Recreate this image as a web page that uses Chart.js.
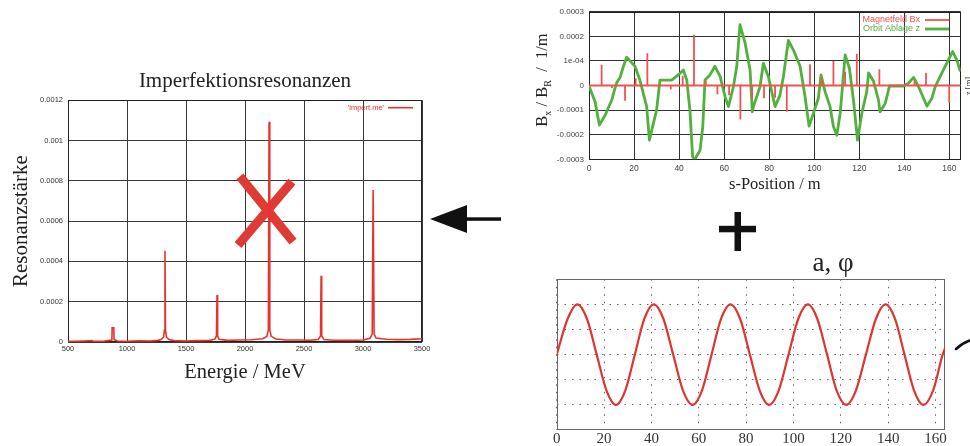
<!DOCTYPE html>
<html>
<head>
<meta charset="utf-8">
<title>Imperfektionsresonanzen</title>
<script src="https://cdn.jsdelivr.net/npm/chart.js@4/dist/chart.umd.min.js"></script>
<style>
  html, body { margin: 0; padding: 0; background: #fff; }
  body { position: relative; width: 970px; height: 446px; overflow: hidden; }
  canvas { position: absolute; }
  #deko { left: 0; top: 0; z-index: 0; }
  #spectrum { left: 0; top: 60px; z-index: 1; }
  #orbit { left: 520px; top: 0; z-index: 1; }
  #phase { left: 540px; top: 240px; z-index: 1; }
</style>
</head>
<body>
<canvas id="deko" width="970" height="446"></canvas>
<canvas id="spectrum" width="502" height="330"></canvas>
<canvas id="orbit" width="450" height="200"></canvas>
<canvas id="phase" width="430" height="206"></canvas>
<script>
// Resonanzspektrum ('impert.me'): Energie in MeV, Resonanzstärke
const energyMeV = [500, 560, 640, 700, 720, 800, 850, 872, 874, 888, 890, 920, 1000, 1100, 1200, 1260, 1290, 1310, 1318, 1322, 1326, 1334, 1355, 1400, 1500, 1600, 1700, 1745, 1758, 1763, 1768, 1780, 1850, 1950, 2050, 2150, 2185, 2198, 2204, 2210, 2222, 2260, 2350, 2450, 2550, 2620, 2640, 2645, 2650, 2670, 2750, 2900, 3000, 3060, 3078, 3086, 3094, 3110, 3200, 3300, 3400, 3500];
const strength = [0.000004, 0.000003, 0.000005, 0.000007, 0.000003, 0.000004, 0.000008, 0.00001, 0.00007, 0.00007, 0.000012, 0.000005, 0.000004, 0.000006, 0.000005, 0.000008, 0.000012, 0.000025, 0.00006, 0.000453, 0.00006, 0.000025, 0.000012, 0.000007, 0.000005, 0.000007, 0.000008, 0.000014, 0.00003, 0.000233, 0.00003, 0.000014, 0.000008, 0.00001, 0.000011, 0.000016, 0.000028, 0.00006, 0.001093, 0.00006, 0.000028, 0.000015, 0.00001, 0.00001, 0.000009, 0.000012, 0.00003, 0.000329, 0.00003, 0.000012, 0.000009, 0.000008, 0.00001, 0.000018, 0.00004, 0.000754, 0.00004, 0.00002, 0.000014, 0.000012, 0.000013, 0.000016];
const energyTicks = [500, 1000, 1500, 2000, 2500, 3000, 3500];
const energyLabels = ['500', '1000', '1500', '2000', '2500', '3000', '3500'];
const strengthTicks = [0, 0.0002, 0.0004, 0.0006, 0.0008, 0.001, 0.0012];
const strengthLabels = ['0', '0.0002', '0.0004', '0.0006', '0.0008', '0.001', '0.0012'];

// Kreuz über der Resonanz bei 2200 MeV (zwei Balken, Energie / Stärke)
const crossArmA = [[1957, 0.000822], [2407, 0.000498]];
const crossArmB = [[1941, 0.000481], [2398, 0.000796]];

// Magnetfeld Bx entlang des Rings (s in m, Bx/BR in 1/m)
const magnetS = [5.6, 10.2, 16.0, 20.7, 25.9, 36.3, 41.6, 46.6, 51.8, 57.0, 62.2, 67.2, 72.4, 77.7, 82.6, 87.8, 98.1, 103.3, 108.5, 113.7, 118.9, 128.9, 144.5, 149.6, 159.9];
const magnetBx = [0.000084, -0.00001, -0.000062, 0.000029, 0.000131, -0.000016, 0.000039, 0.000206, 0.00002, -0.000036, -0.00004, -0.000138, -0.000056, -0.000052, -0.00005, -0.000107, 0.000086, 0.00003, 0.0001, 0.000056, 0.000129, 0.000066, 0.00002, 0.000052, -0.00007];

// Orbitablage z (s in m)
const orbitS = [0, 2.7, 4.6, 7.2, 10.1, 11.5, 12.3, 13.8, 15.0, 16.7, 18.5, 20.4, 22.6, 25.6, 26.8, 30.0, 31.5, 36.7, 39.6, 41.9, 43.4, 44.8, 46.0, 47.0, 49.3, 50.5, 51.5, 53.7, 55.9, 58.2, 60.4, 61.9, 64.1, 65.6, 67.0, 69.3, 71.5, 72.5, 73.0, 75.9, 77.4, 79.6, 82.6, 84.8, 86.3, 88.5, 90.7, 93.7, 95.9, 97.7, 99.6, 101.8, 103.0, 104.8, 107.0, 108.5, 110.0, 111.5, 113.7, 115.6, 117.4, 119.2, 121.1, 123.3, 124.1, 126.3, 128.5, 129.2, 131.5, 133.4, 139.6, 141.8, 144.1, 146.3, 148.5, 150.0, 152.2, 153.7, 155.9, 158.1, 161.4, 163.3, 164.8];
const orbitZ = [-0.000002, -0.000066, -0.000161, -0.00012, -0.000059, -0.000012, 0.000011, 0.000033, 0.00007, 0.000115, 0.000097, 0.000078, 0.000022, -0.000086, -0.000222, -0.0001, 0.000022, 0.000022, 0.000043, 0.000063, 0.000022, -0.0001, -0.00029, -0.0003, -0.000263, -0.000168, 0.000022, 0.000043, 0.000078, 0.000037, -0.000045, -0.000086, -0.000005, 0.000078, 0.000247, 0.000172, 0.000063, -0.000107, -0.000086, -0.000005, 0.00009, 0.000037, -0.000086, -0.000039, 0.000037, 0.000183, 0.000145, 0.000078, -0.000045, -0.000165, -0.000114, -0.000052, 0.000043, -0.000025, -0.000086, -0.000167, -0.000202, -0.000114, 0.000124, 0.00007, -0.000059, -0.000222, -0.000114, -0.000025, 0.000051, 0.000017, -0.000059, -0.000107, -0.000073, -0.000002, -0.000002, 0.000009, 0.000033, -0.000005, -0.000052, -0.000084, -0.000052, -0.000005, 0.000037, 0.000078, 0.000138, 0.000104, 0.000057];
const sTicks = [0, 20, 40, 60, 80, 100, 120, 140, 160];
const bxTicks = [-0.0003, -0.0002, -0.0001, 0, 0.0001, 0.0002, 0.0003];
const bxLabels = ['-0.0003', '-0.0002', '-0.0001', '0', '1e-04', '0.0002', '0.0003'];

// Amplitude / Phase (a, phi) über s
const phaseS = [0, 4.6, 8.7, 12.8, 16.9, 21.0, 25.0, 29.0, 33.0, 37.0, 41.0, 45.1, 49.2, 53.3, 57.4, 61.4, 65.4, 69.4, 73.4, 77.5, 81.6, 85.7, 89.7, 93.8, 97.9, 102.0, 106.1, 110.1, 114.2, 118.2, 122.3, 126.4, 130.6, 134.8, 138.9, 142.9, 146.9, 150.9, 154.9, 159.0, 163.0, 164.0];
const phaseA = [0, 1.42, 2, 1.42, 0, -1.42, -2, -1.42, 0, 1.42, 2, 1.42, 0, -1.42, -2, -1.42, 0, 1.42, 2, 1.42, 0, -1.42, -2, -1.42, 0, 1.42, 2, 1.42, 0, -1.42, -2, -1.42, 0, 1.42, 2, 1.42, 0, -1.42, -2, -1.42, 0, 0.25];
const aTicks = [-2, -1, 0, 1, 2];

const serif = '"Liberation Serif", "DejaVu Serif", serif';
const sans = '"Liberation Sans", "DejaVu Sans", sans-serif';

const xy = (xs, ys) => xs.map((x, i) => ({ x: x, y: ys[i] }));
const pairs = arr => arr.map(p => ({ x: p[0], y: p[1] }));
const fixTicks = vals => scale => { scale.ticks = vals.map(v => ({ value: v })); };

// plot border drawn over the grid, under the data
const framePlugin = {
  id: 'frame',
  beforeDatasetsDraw(chart, args, opts) {
    const { ctx, chartArea: a } = chart;
    ctx.save();
    ctx.strokeStyle = opts.color || '#222';
    ctx.lineWidth = 1;
    ctx.strokeRect(Math.round(a.left) + 0.5, Math.round(a.top) + 0.5,
      Math.round(a.right - a.left) - 1, Math.round(a.bottom - a.top) - 1);
    ctx.restore();
  }
};

// gnuplot-like key in the upper right corner of the plot
const keyPlugin = {
  id: 'insideKey',
  afterDatasetsDraw(chart, args, opts) {
    if (!opts.font) return;
    const { ctx, chartArea: a } = chart;
    ctx.save();
    ctx.font = opts.font;
    ctx.textAlign = 'right';
    ctx.textBaseline = 'middle';
    let y = a.top + opts.top;
    chart.data.datasets.forEach(ds => {
      if (!ds.label) return;
      const x1 = a.right - opts.right;
      const x0 = x1 - opts.sample;
      ctx.fillStyle = ds.borderColor;
      ctx.fillText(ds.label, x0 - opts.gap, y);
      ctx.strokeStyle = ds.borderColor;
      ctx.lineWidth = ds.borderWidth;
      ctx.beginPath();
      ctx.moveTo(x0, y);
      ctx.lineTo(x1, y);
      ctx.stroke();
      y += opts.row;
    });
    ctx.restore();
  }
};

// free captions made of several runs (used for subscripts and rotated labels)
const captionPlugin = {
  id: 'captions',
  afterDraw(chart, args, opts) {
    const ctx = chart.ctx;
    (opts.items || []).forEach(item => {
      ctx.save();
      ctx.translate(item.x, item.y);
      ctx.rotate(item.rotate || 0);
      ctx.fillStyle = item.color || '#222';
      ctx.textBaseline = 'alphabetic';
      let w = 0;
      item.parts.forEach(p => {
        ctx.font = p.size + 'px ' + (p.family || serif);
        p.w = ctx.measureText(p.text).width;
        w += p.w;
      });
      let x = -w / 2;
      const base = item.parts[0].size * 0.33;
      item.parts.forEach(p => {
        ctx.font = p.size + 'px ' + (p.family || serif);
        ctx.fillText(p.text, x, base + (p.dy || 0));
        x += p.w;
      });
      ctx.restore();
    });
  }
};

Chart.register(framePlugin, keyPlugin, captionPlugin);
Chart.defaults.animation = false;
Chart.defaults.responsive = false;
Chart.defaults.devicePixelRatio = 1;
Chart.defaults.events = [];
Chart.defaults.plugins.legend.display = false;
Chart.defaults.plugins.tooltip.enabled = false;

// --- Resonanzspektrum ---
new Chart(document.getElementById('spectrum'), {
  type: 'line',
  data: {
    datasets: [
      { label: "'impert.me'", data: xy(energyMeV, strength), borderColor: '#e8322c',
        borderWidth: 1.6, pointRadius: 0, tension: 0 },
      { data: pairs(crossArmA), borderColor: '#e03a34', borderWidth: 9, borderCapStyle: 'butt', pointRadius: 0 },
      { data: pairs(crossArmB), borderColor: '#e03a34', borderWidth: 9, borderCapStyle: 'butt', pointRadius: 0 }
    ]
  },
  options: {
    layout: { padding: { left: 0, right: 80, top: 0, bottom: 0 } },
    plugins: {
      title: { display: true, text: 'Imperfektionsresonanzen', fullSize: false, color: '#222',
        font: { family: serif, size: 21, weight: 'normal' }, padding: { top: 9, bottom: 6 } },
      frame: { color: '#222' },
      insideKey: { font: '7.5px ' + sans, top: 7.5, right: 9, sample: 25, gap: 4, row: 9 }
    },
    scales: {
      x: {
        type: 'linear', min: 500, max: 3500,
        afterBuildTicks: fixTicks(energyTicks),
        afterFit: s => { s.height = 48; },
        grid: { color: '#3a3a3a', drawTicks: false },
        border: { display: false },
        ticks: { font: { family: sans, size: 7.5 }, color: '#333', padding: 2, maxRotation: 0,
          callback: (v, i) => energyLabels[i] },
        title: { display: true, text: 'Energie / MeV', color: '#222',
          font: { family: serif, size: 20.5 }, padding: { top: 0, bottom: 5 } }
      },
      y: {
        type: 'linear', min: 0, max: 0.0012,
        afterBuildTicks: fixTicks(strengthTicks),
        afterFit: s => { s.width = 68; },
        grid: { color: '#3a3a3a', drawTicks: false },
        border: { display: false },
        ticks: { font: { family: sans, size: 7.5 }, color: '#333', padding: 5,
          callback: (v, i) => strengthLabels[i] },
        title: { display: true, text: 'Resonanzstärke', color: '#222',
          font: { family: serif, size: 21 }, padding: { top: 9, bottom: 0 } }
      }
    }
  }
});

// --- Magnetfeld und Orbitablage ---
const bxImpulses = [{ x: 0, y: 0 }];
magnetS.forEach((s, i) => {
  bxImpulses.push({ x: s, y: 0 }, { x: s, y: magnetBx[i] }, { x: s, y: 0 });
});
bxImpulses.push({ x: 165, y: 0 });

new Chart(document.getElementById('orbit'), {
  type: 'line',
  data: {
    datasets: [
      { label: 'Magnetfeld Bx', data: bxImpulses, borderColor: '#ef5350', borderWidth: 1.8,
        pointRadius: 0, tension: 0 },
      { label: 'Orbit Ablage z', data: xy(orbitS, orbitZ), borderColor: '#52b03e', borderWidth: 2.8,
        pointRadius: 0, tension: 0, borderJoinStyle: 'round' }
    ]
  },
  options: {
    layout: { padding: { left: 0, right: 9.3, top: 11.7, bottom: 0 } },
    plugins: {
      frame: { color: '#222' },
      insideKey: { font: '9px ' + sans, top: 8.3, right: 11.7, sample: 24, gap: 5, row: 9 },
      captions: {
        items: [
          { x: 21.7, y: 80, rotate: -Math.PI / 2, parts: [
            { text: 'B', size: 16.5 }, { text: 'x', size: 10, dy: 4 },
            { text: ' / B', size: 16.5 }, { text: 'R', size: 10, dy: 4 },
            { text: '  /  1/m', size: 16.5 }] },
          { x: 448, y: 86, rotate: -Math.PI / 2, color: '#333', parts: [{ text: 'z [m]', size: 8.5 }] }
        ]
      }
    },
    scales: {
      x: {
        type: 'linear', min: 0, max: 165,
        afterBuildTicks: fixTicks(sTicks),
        afterFit: s => { s.height = 40.7; },
        grid: { color: '#333', drawTicks: false },
        border: { display: false },
        ticks: { font: { family: sans, size: 8.5 }, color: '#444', padding: 4, maxRotation: 0 },
        title: { display: true, text: 's-Position / m', color: '#222',
          font: { family: serif, size: 16.5 }, padding: { top: 0, bottom: 5 } }
      },
      y: {
        type: 'linear', min: -0.0003, max: 0.0003,
        afterBuildTicks: fixTicks(bxTicks),
        afterFit: s => { s.width = 69; },
        grid: { color: '#333', drawTicks: false },
        border: { display: false },
        ticks: { font: { family: sans, size: 8 }, color: '#444', padding: 5,
          callback: (v, i) => bxLabels[i] }
      }
    }
  }
});

// --- a, phi ---
new Chart(document.getElementById('phase'), {
  type: 'line',
  data: {
    datasets: [
      { data: xy(phaseS, phaseA), borderColor: '#dd3530', borderWidth: 2.2, pointRadius: 0,
        cubicInterpolationMode: 'monotone' }
    ]
  },
  options: {
    layout: { padding: { left: 0, right: 25, top: 39.3, bottom: 0 } },
    plugins: {
      frame: { color: '#666' },
      captions: {
        items: [{ x: 293, y: 22, parts: [{ text: 'a, φ', size: 27 }] }]
      }
    },
    scales: {
      x: {
        type: 'linear', min: 0, max: 164,
        afterBuildTicks: fixTicks(sTicks),
        afterFit: s => { s.height = 16; },
        grid: { color: '#666', drawTicks: false },
        border: { display: false, dash: [1.5, 6] },
        ticks: { font: { family: serif, size: 15 }, color: '#333', padding: 0, maxRotation: 0 }
      },
      y: {
        type: 'linear', min: -3, max: 3,
        afterBuildTicks: fixTicks(aTicks),
        afterFit: s => { s.width = 16.7; },
        grid: { color: '#666', drawTicks: false },
        border: { display: false, dash: [1.5, 6] },
        ticks: { display: false }
      }
    }
  }
});

// --- Pfeil, Pluszeichen, Bogen ---
(function () {
  const ctx = document.getElementById('deko').getContext('2d');
  ctx.fillStyle = '#111';
  ctx.strokeStyle = '#111';
  // arrow pointing left
  ctx.beginPath();
  ctx.moveTo(430, 219);
  ctx.lineTo(467, 205);
  ctx.lineTo(467, 233);
  ctx.closePath();
  ctx.fill();
  ctx.fillRect(465, 217.3, 36, 3.5);
  // plus sign
  ctx.fillRect(719, 225.8, 37, 6.5);
  ctx.fillRect(734.5, 212, 6.5, 39);
  // short stroke at the right edge
  ctx.lineWidth = 2.5;
  ctx.lineCap = 'round';
  ctx.beginPath();
  ctx.moveTo(956, 349);
  ctx.quadraticCurveTo(962, 343, 971, 340);
  ctx.stroke();
})();
</script>
</body>
</html>
